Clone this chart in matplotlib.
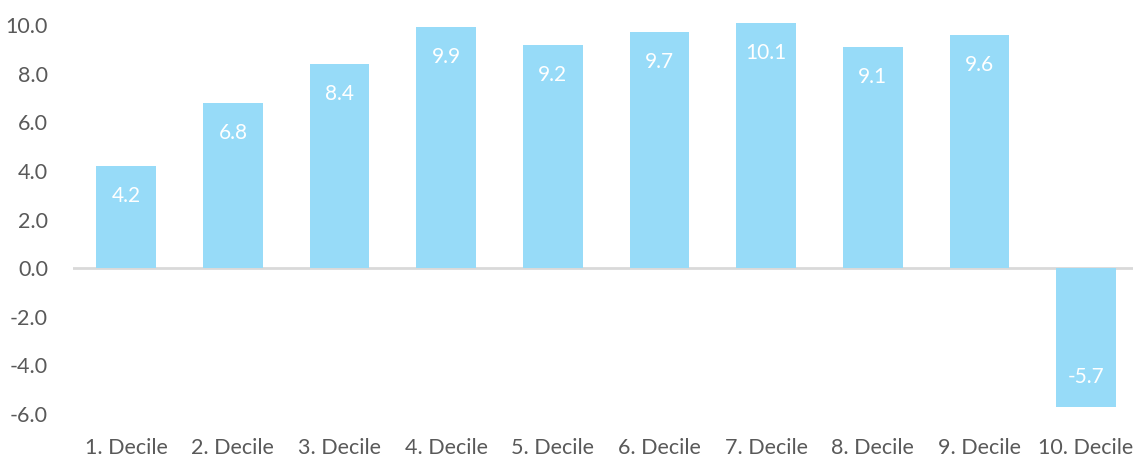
import matplotlib.pyplot as plt

# -----------------------------
# Data
# -----------------------------
CATEGORIES = ["1. Decile", "2. Decile", "3. Decile", "4. Decile", "5. Decile",
              "6. Decile", "7. Decile", "8. Decile", "9. Decile", "10. Decile"]
VALUES = [4.2, 6.8, 8.4, 9.9, 9.2, 9.7, 10.1, 9.1, 9.6, -5.7]
Y_TICKS = [-6.0, -4.0, -2.0, 0.0, 2.0, 4.0, 6.0, 8.0, 10.0]

BAR_COLOR = "#97dbf8"
TEXT_COLOR = "#595959"

plt.rcParams["font.family"] = ["Lato", "DejaVu Sans"]

fig = plt.figure(figsize=(11.33, 4.59), dpi=100)
ax = fig.add_axes([0.0644, 0.098, 0.9356, 0.858])

x = range(len(CATEGORIES))
bars = ax.bar(x, VALUES, width=0.56, color=BAR_COLOR, zorder=2)

# value labels inside the bar end
for rect, v in zip(bars, VALUES):
    cx = rect.get_x() + rect.get_width() / 2
    ax.annotate(f"{v:.1f}", (cx, v), xytext=(0, -30 if v > 0 else 30),
                textcoords="offset pixels", ha="center", va="center",
                color="white", fontsize=15)

ax.axhline(0, color="#d9d9d9", linewidth=2, zorder=1)

ax.set_xlim(-0.5, 9.44)
ax.set_ylim(-6.0, 10.2)
ax.set_yticks(Y_TICKS)
ax.set_yticklabels([f"{t:.1f}" for t in Y_TICKS])
ax.set_xticks(list(x))
ax.set_xticklabels(CATEGORIES)
ax.tick_params(length=0, labelsize=15.5, labelcolor=TEXT_COLOR)
ax.tick_params(axis="y", pad=18)
ax.tick_params(axis="x", pad=17)
for s in ax.spines.values():
    s.set_visible(False)

fig.savefig("out.png", dpi=100)
